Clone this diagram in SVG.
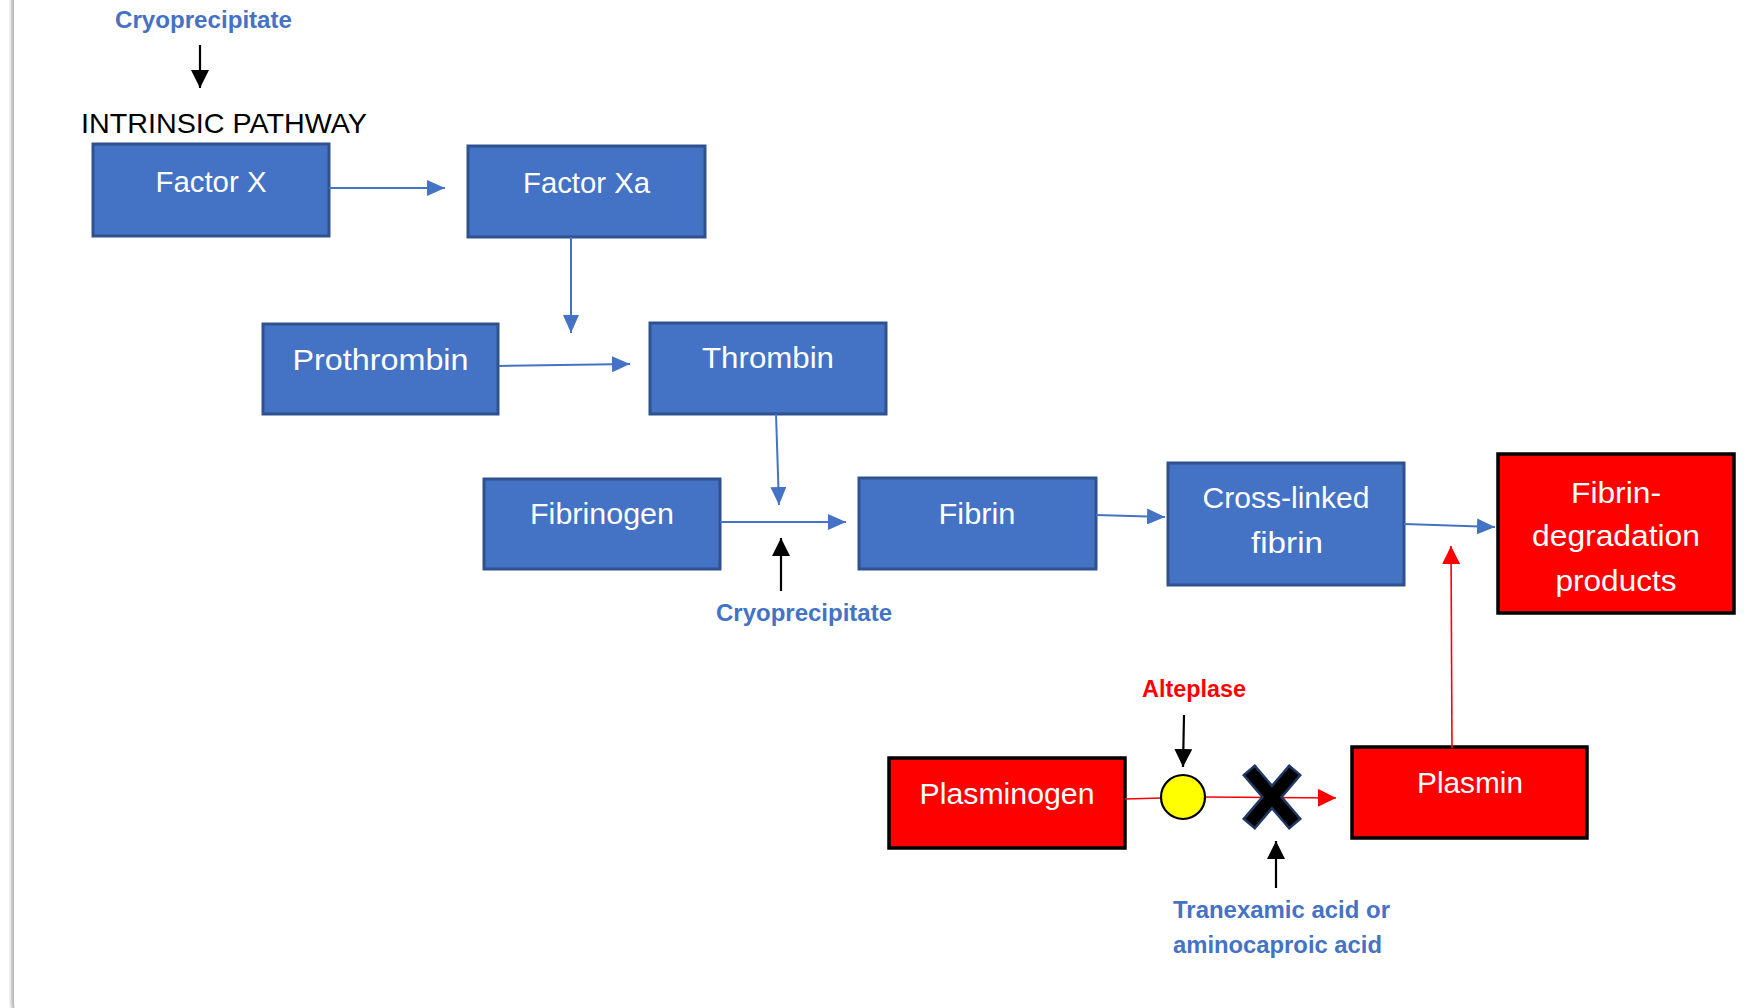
<svg xmlns="http://www.w3.org/2000/svg" width="1763" height="1008" viewBox="0 0 1763 1008">
  <defs>
    <style>
      .box-blue { fill: #4472C4; stroke: #2F528F; stroke-width: 3; }
      .box-red { fill: #FF0000; stroke: #000000; stroke-width: 3.5; }
      .node-text { font-family: "Liberation Sans", Arial, sans-serif; font-size: 30px; fill: #FFFFFF; text-anchor: middle; }
      .title { font-family: "Liberation Sans", Arial, sans-serif; font-size: 28px; fill: #000000; }
      .drug-blue { font-family: "Liberation Sans", Arial, sans-serif; font-size: 23px; font-weight: bold; fill: #4472C4; }
      .drug-red { font-family: "Liberation Sans", Arial, sans-serif; font-size: 23px; font-weight: bold; fill: #FF0000; }
      .link-blue { stroke: #4472C4; stroke-width: 2; fill: none; marker-end: url(#head-blue); }
      .link-red { stroke: #FF0000; stroke-width: 1.6; fill: none; }
      .link-black { stroke: #000000; stroke-width: 2.2; fill: none; marker-end: url(#head-black); }
    </style>
    <marker id="head-blue" viewBox="0 0 18 16" refX="18" refY="8" markerWidth="18" markerHeight="16" markerUnits="userSpaceOnUse" orient="auto">
      <path d="M0,0 L18,8 L0,16 Z" fill="#4472C4"/>
    </marker>
    <marker id="head-red" viewBox="0 0 18 18" refX="18" refY="9" markerWidth="18" markerHeight="18" markerUnits="userSpaceOnUse" orient="auto">
      <path d="M0,0 L18,9 L0,18 Z" fill="#FF0000"/>
    </marker>
    <marker id="head-black" viewBox="0 0 18 18" refX="18" refY="9" markerWidth="18" markerHeight="18" markerUnits="userSpaceOnUse" orient="auto">
      <path d="M0,0 L18,9 L0,18 Z" fill="#000000"/>
    </marker>
    <filter id="card-shadow" x="-5%" y="-5%" width="110%" height="110%">
      <feGaussianBlur stdDeviation="1.6"/>
    </filter>
  </defs>

  <!-- page and card -->
  <rect x="0" y="0" width="1763" height="1008" fill="#FFFFFF"/>
  <rect x="11" y="-30" width="1800" height="1046" rx="12" fill="#B8B8B8" filter="url(#card-shadow)"/>
  <rect x="14" y="-30" width="1800" height="1046" rx="12" fill="#FFFFFF"/>

  <!-- free-standing labels -->
  <g id="label-intrinsic">
    <text class="title" x="81" y="133" textLength="286" lengthAdjust="spacingAndGlyphs">INTRINSIC PATHWAY</text>
  </g>
  <g id="label-cryo-top">
    <text class="drug-blue" x="115" y="28" textLength="177" lengthAdjust="spacingAndGlyphs">Cryoprecipitate</text>
  </g>
  <g id="label-cryo-mid">
    <text class="drug-blue" x="716" y="621" textLength="176" lengthAdjust="spacingAndGlyphs">Cryoprecipitate</text>
  </g>
  <g id="label-alteplase">
    <text class="drug-red" x="1142" y="697" textLength="104" lengthAdjust="spacingAndGlyphs">Alteplase</text>
  </g>
  <g id="label-antifibrinolytic">
    <text class="drug-blue" x="1173" y="918" textLength="217" lengthAdjust="spacingAndGlyphs">Tranexamic acid or</text>
    <text class="drug-blue" x="1173" y="953" textLength="209" lengthAdjust="spacingAndGlyphs">aminocaproic acid</text>
  </g>

  <!-- coagulation cascade -->
  <g id="node-factor-x">
    <rect class="box-blue" x="93" y="144" width="236" height="92"/>
    <text class="node-text" x="211" y="192" textLength="111" lengthAdjust="spacingAndGlyphs">Factor X</text>
  </g>
  <g id="node-factor-xa">
    <rect class="box-blue" x="468" y="146" width="237" height="91"/>
    <text class="node-text" x="586.5" y="193" textLength="127" lengthAdjust="spacingAndGlyphs">Factor Xa</text>
  </g>
  <g id="node-prothrombin">
    <rect class="box-blue" x="263" y="324" width="235" height="90"/>
    <text class="node-text" x="380.5" y="370" textLength="176" lengthAdjust="spacingAndGlyphs">Prothrombin</text>
  </g>
  <g id="node-thrombin">
    <rect class="box-blue" x="650" y="323" width="236" height="91"/>
    <text class="node-text" x="768" y="368" textLength="132" lengthAdjust="spacingAndGlyphs">Thrombin</text>
  </g>
  <g id="node-fibrinogen">
    <rect class="box-blue" x="484" y="479" width="236" height="90"/>
    <text class="node-text" x="602" y="524" textLength="144" lengthAdjust="spacingAndGlyphs">Fibrinogen</text>
  </g>
  <g id="node-fibrin">
    <rect class="box-blue" x="859" y="478" width="237" height="91"/>
    <text class="node-text" x="977" y="524" textLength="77" lengthAdjust="spacingAndGlyphs">Fibrin</text>
  </g>
  <g id="node-cross-linked-fibrin">
    <rect class="box-blue" x="1168" y="463" width="236" height="122"/>
    <text class="node-text" x="1286" y="508" textLength="167" lengthAdjust="spacingAndGlyphs">Cross-linked</text>
    <text class="node-text" x="1287" y="553" textLength="72" lengthAdjust="spacingAndGlyphs">fibrin</text>
  </g>

  <!-- fibrinolysis -->
  <g id="node-fdp">
    <rect class="box-red" x="1498" y="454" width="236" height="159"/>
    <text class="node-text" x="1616" y="503" textLength="90" lengthAdjust="spacingAndGlyphs">Fibrin-</text>
    <text class="node-text" x="1616" y="546" textLength="168" lengthAdjust="spacingAndGlyphs">degradation</text>
    <text class="node-text" x="1616" y="591" textLength="121" lengthAdjust="spacingAndGlyphs">products</text>
  </g>
  <g id="node-plasminogen">
    <rect class="box-red" x="889" y="758" width="236" height="90"/>
    <text class="node-text" x="1007" y="804" textLength="175" lengthAdjust="spacingAndGlyphs">Plasminogen</text>
  </g>
  <g id="node-plasmin">
    <rect class="box-red" x="1352" y="747" width="235" height="91"/>
    <text class="node-text" x="1470" y="793" textLength="106" lengthAdjust="spacingAndGlyphs">Plasmin</text>
  </g>

  <!-- connectors -->
  <g id="connectors">
    <line class="link-blue" x1="329" y1="188" x2="445" y2="188"/>
    <line class="link-blue" x1="571" y1="237" x2="571" y2="333"/>
    <line class="link-blue" x1="499" y1="366" x2="630" y2="364"/>
    <line class="link-blue" x1="776" y1="414" x2="779" y2="505"/>
    <line class="link-blue" x1="720" y1="522" x2="846" y2="522"/>
    <line class="link-blue" x1="1096" y1="515" x2="1165" y2="517"/>
    <line class="link-blue" x1="1404" y1="524" x2="1495" y2="527"/>

    <line class="link-red" x1="1452" y1="748" x2="1451" y2="546" marker-end="url(#head-red)"/>
    <line class="link-red" x1="1125" y1="799" x2="1161" y2="798"/>
    <line class="link-red" x1="1205" y1="797" x2="1336" y2="798" marker-end="url(#head-red)"/>

    <line class="link-black" x1="200" y1="45" x2="200" y2="88"/>
    <line class="link-black" x1="781" y1="591" x2="781" y2="538"/>
    <line class="link-black" x1="1184" y1="715" x2="1183" y2="767"/>
    <line class="link-black" x1="1276" y1="888" x2="1276" y2="841"/>
  </g>

  <!-- activation point and inhibition mark -->
  <g id="node-activation">
    <ellipse cx="1183" cy="797" rx="22" ry="22" fill="#FFFF00" stroke="#000000" stroke-width="2.2"/>
  </g>
  <g id="node-block">
    <path d="M1254,776 L1290,818 M1290,776 L1254,818" stroke="#1F3864" stroke-width="17" stroke-linecap="square" fill="none"/>
    <path d="M1254,776 L1290,818 M1290,776 L1254,818" stroke="#000000" stroke-width="12" stroke-linecap="square" fill="none"/>
  </g>
</svg>
